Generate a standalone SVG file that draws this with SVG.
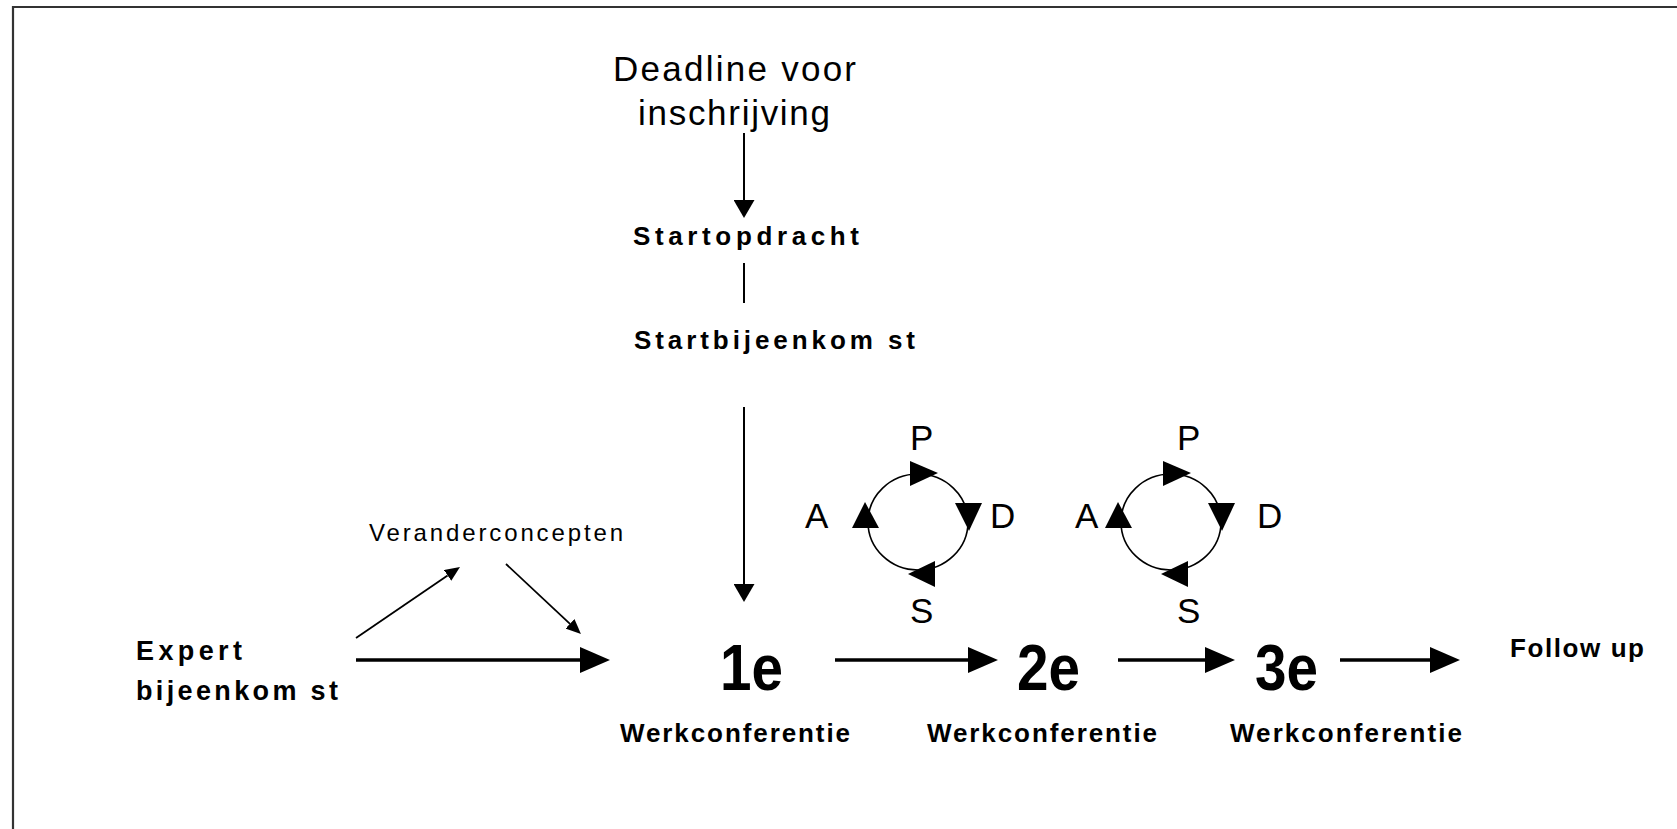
<svg xmlns="http://www.w3.org/2000/svg" width="1677" height="829" viewBox="0 0 1677 829">
<style>
text{font-family:"Liberation Sans",Arial,sans-serif;fill:#000}
.b{font-weight:bold}
.t35{font-size:35px}
.t26b{font-size:26px;font-weight:bold}
.big{font-size:64px;font-weight:bold}
.thin{stroke:#000;stroke-width:2;fill:none}
.diag{stroke:#000;stroke-width:1.8;fill:none}
.bold{stroke:#000;stroke-width:3.5;fill:none}
.cyc{stroke:#000;stroke-width:1.6;fill:none}
.head{fill:#000;stroke:none}
</style>
<defs>
<marker id="ahBig" markerUnits="userSpaceOnUse" viewBox="0 0 30 26" markerWidth="30" markerHeight="26" refX="0" refY="13" orient="auto"><path d="M0,0 L30,13 L0,26 z" fill="#000"/></marker>
<marker id="ahV" markerUnits="userSpaceOnUse" viewBox="0 0 18 21" markerWidth="18" markerHeight="21" refX="0" refY="10.5" orient="auto"><path d="M0,0 L18,10.5 L0,21 z" fill="#000"/></marker>
<marker id="ahS" markerUnits="userSpaceOnUse" viewBox="0 0 15 13" markerWidth="15" markerHeight="13" refX="0" refY="6.5" orient="auto"><path d="M0,0 L15,6.5 L0,13 z" fill="#000"/></marker>
<g id="cycle">
<ellipse class="cyc" cx="918" cy="522" rx="50" ry="48"/>
<polygon class="head" points="910,461 938,473 910,486"/>
<polygon class="head" points="955,503 982,503 969,531"/>
<polygon class="head" points="935,561 935,587 908,574"/>
<polygon class="head" points="852,528 879,528 865,502"/>
</g>
</defs>
<rect width="1677" height="829" fill="#fff"/>
<path d="M13,829 V7 H1677" fill="none" stroke="#333" stroke-width="2.2"/>

<g id="connectors">
<line class="thin" x1="744" y1="133" x2="744" y2="200" marker-end="url(#ahV)"/>
<line class="thin" x1="744" y1="263" x2="744" y2="303"/>
<line class="thin" x1="744" y1="407" x2="744" y2="584" marker-end="url(#ahV)"/>
<line class="diag" x1="356" y1="638" x2="447.6" y2="575.4" marker-end="url(#ahS)"/>
<line class="diag" x1="506" y1="564" x2="570" y2="623.8" marker-end="url(#ahS)"/>
<line class="bold" x1="356" y1="660" x2="580" y2="660" marker-end="url(#ahBig)"/>
<line class="bold" x1="835" y1="660" x2="968" y2="660" marker-end="url(#ahBig)"/>
<line class="bold" x1="1118" y1="660" x2="1205" y2="660" marker-end="url(#ahBig)"/>
<line class="bold" x1="1340" y1="660" x2="1430" y2="660" marker-end="url(#ahBig)"/>
</g>

<g id="node-deadline">
<text class="t35" x="613" y="81" textLength="243" lengthAdjust="spacing">Deadline voor</text>
<text class="t35" x="638" y="125" textLength="192" lengthAdjust="spacing">inschrijving</text>
</g>
<g id="node-startopdracht">
<text class="t26b" x="633" y="245" textLength="226" lengthAdjust="spacing">Startopdracht</text>
</g>
<g id="node-startbijeenkomst">
<text class="t26b" x="634" y="349" textLength="281" lengthAdjust="spacing">Startbijeenkom st</text>
</g>
<g id="node-expert">
<text class="b" font-size="27" x="136" y="660" textLength="106" lengthAdjust="spacing">Expert</text>
<text class="b" font-size="27" x="136" y="700" textLength="202" lengthAdjust="spacing">bijeenkom st</text>
</g>
<g id="node-veranderconcepten">
<text font-size="24" x="369" y="541" textLength="254" lengthAdjust="spacing">Veranderconcepten</text>
</g>
<g id="node-1e">
<text class="big" x="720" y="690" textLength="63" lengthAdjust="spacingAndGlyphs">1e</text>
<text class="t26b" x="620" y="742" textLength="230" lengthAdjust="spacing">Werkconferentie</text>
</g>
<g id="node-2e">
<text class="big" x="1017" y="690" textLength="63" lengthAdjust="spacingAndGlyphs">2e</text>
<text class="t26b" x="927" y="742" textLength="230" lengthAdjust="spacing">Werkconferentie</text>
</g>
<g id="node-3e">
<text class="big" x="1255" y="690" textLength="63" lengthAdjust="spacingAndGlyphs">3e</text>
<text class="t26b" x="1230" y="742" textLength="232" lengthAdjust="spacing">Werkconferentie</text>
</g>
<g id="node-followup">
<text class="t26b" x="1510" y="657" textLength="134" lengthAdjust="spacing">Follow up</text>
</g>
<g id="node-pdsa1">
<use href="#cycle"/>
<text class="t35" x="910" y="450">P</text>
<text class="t35" x="805" y="528">A</text>
<text class="t35" x="990" y="528">D</text>
<text class="t35" x="910" y="623">S</text>
</g>
<g id="node-pdsa2">
<use href="#cycle" transform="translate(253,0)"/>
<text class="t35" x="1177" y="450">P</text>
<text class="t35" x="1075" y="528">A</text>
<text class="t35" x="1257" y="528">D</text>
<text class="t35" x="1177" y="623">S</text>
</g>
</svg>
